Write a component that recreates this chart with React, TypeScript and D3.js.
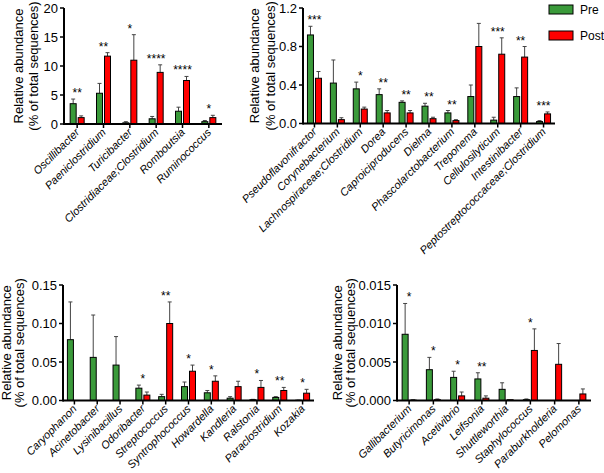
import * as d3 from 'd3';

// ---- top left
const taxaA = ['Oscillibacter', 'Paeniclostridium', 'Turicibacter', 'Clostridiaceae;Clostridium', 'Romboutsia', 'Ruminococcus'];
const preA = [3.5, 5.3, 0.2, 0.9, 2.2, 0.4];
const preSemA = [0.8, 1.7, 0.2, 0.4, 0.7, 0.2];
const postA = [1.1, 11.7, 11.0, 8.9, 7.5, 1.1];
const postSemA = [0.3, 0.6, 4.4, 1.3, 0.7, 0.4];
const sigA = ['**', '**', '*', '****', '****', '*'];
const ticksA = [0, 5, 10, 15, 20];

// ---- top right
const taxaB = ['Pseudoflavonifractor', 'Corynebacterium', 'Lachnospiraceae;Clostridium', 'Dorea', 'Caproiciproducens', 'Dielma', 'Phascolarctobacterium', 'Treponema', 'Cellulosilyticum', 'Intestinibacter', 'Peptostreptococcaceae;Clostridium'];
const preB = [0.92, 0.42, 0.36, 0.30, 0.22, 0.18, 0.11, 0.28, 0.035, 0.28, 0.02];
const preSemB = [0.09, 0.24, 0.07, 0.06, 0.015, 0.03, 0.025, 0.12, 0.03, 0.09, 0.01];
const postB = [0.47, 0.04, 0.15, 0.11, 0.11, 0.05, 0.03, 0.80, 0.72, 0.69, 0.10];
const postSemB = [0.07, 0.02, 0.02, 0.025, 0.025, 0.015, 0.01, 0.24, 0.17, 0.11, 0.02];
const sigB = ['***', '', '*', '**', '**', '**', '**', '', '***', '**', '***'];
const ticksB = [0, 0.4, 0.8, 1.2];

// ---- bottom left
const taxaC = ['Caryophanon', 'Acinetobacter', 'Lysinibacillus', 'Odoribacter', 'Streptococcus', 'Syntrophococcus', 'Howardella', 'Kandleria', 'Ralstonia', 'Paraclostridium', 'Kozakia'];
const preC = [0.079, 0.056, 0.046, 0.016, 0.005, 0.018, 0.010, 0.003, 0.001, 0.004, 0.0003];
const preSemC = [0.049, 0.055, 0.037, 0.004, 0.003, 0.006, 0.003, 0.002, 0.0005, 0.001, 0.0002];
const postC = [0, 0, 0, 0.007, 0.100, 0.038, 0.025, 0.018, 0.017, 0.013, 0.0095];
const postSemC = [0, 0, 0, 0.004, 0.028, 0.008, 0.007, 0.007, 0.009, 0.004, 0.005];
const sigC = ['', '', '', '*', '**', '*', '*', '', '*', '**', '*'];
const ticksC = [0, 0.05, 0.10, 0.15];

// ---- bottom right
const taxaD = ['Gallibacterium', 'Butyricimonas', 'Acetivibrio', 'Leifsonia', 'Shuttleworthia', 'Staphylococcus', 'Paraburkholderia', 'Pelomonas'];
const preD = [0.0086, 0.0040, 0.0030, 0.0028, 0.00145, 0.0001, 0, 0];
const preSemD = [0.0040, 0.0016, 0.0008, 0.0008, 0.00085, 0.0001, 0, 0];
const postD = [0.00005, 0.0001, 0.0006, 0.0003, 0.0001, 0.0065, 0.0047, 0.00085];
const postSemD = [0.00005, 0.0001, 0.0005, 0.0003, 0, 0.0028, 0.0027, 0.00065];
const sigD = ['*', '*', '*', '**', '', '*', '', ''];
const ticksD = [0, 0.005, 0.010, 0.015];

const GREEN = '#3a9a3a';
const RED = '#ff0000';
const FONT = '"Liberation Sans", Arial, sans-serif';

type PanelProps = {
  names: string[];
  pre: number[];
  preSem: number[];
  post: number[];
  postSem: number[];
  sig: string[];
  ticks: number[];
  digits: number;
  x0: number;
  x1: number;
  yTop: number;
  yBottom: number;
  titleX: [number, number];
};

const Panel = ({ names, pre, preSem, post, postSem, sig, ticks, digits, x0, x1, yTop, yBottom, titleX }: PanelProps) => {
  const x = d3.scaleBand().domain(names).range([x0, x1]);
  const y = d3.scaleLinear().domain([0, ticks[ticks.length - 1]]).range([yBottom, yTop]);
  const fmt = d3.format(`.${digits}f`);
  const bw = 6;
  const midY = (yTop + yBottom) / 2;

  const bar = (cx: number, v: number, sem: number, color: string, key: string) => {
    if (v <= 0 && sem <= 0) return null;
    const top = y(v);
    const errTop = y(v + sem);
    return (
      <g key={key}>
        {sem > 0 && (
          <g stroke="#444" strokeWidth={1}>
            <line x1={cx + bw / 2} x2={cx + bw / 2} y1={top} y2={errTop} />
            <line x1={cx + bw / 2 - 2} x2={cx + bw / 2 + 2} y1={errTop} y2={errTop} />
          </g>
        )}
        <rect x={cx} y={top} width={bw} height={Math.max(0, yBottom - top)} fill={color} stroke="#000" strokeWidth={1} />
      </g>
    );
  };

  return (
    <g fontFamily={FONT} fill="#000">
      {names.map((n, i) => {
        const c = (x(n) as number) + x.bandwidth() / 2;
        const maxTop = Math.max(pre[i] + preSem[i], post[i] + postSem[i]);
        return (
          <g key={n}>
            {bar(c - bw - 1, pre[i], preSem[i], GREEN, 'pre')}
            {bar(c + 1, post[i], postSem[i], RED, 'post')}
            {sig[i] && (
              <text x={c} y={y(maxTop) - 2} textAnchor="middle" fontSize={12} fill="#000">{sig[i]}</text>
            )}
            <line x1={c} x2={c} y1={yBottom} y2={yBottom + 4} stroke="#000" strokeWidth={1.5} />
            <text
              transform={`translate(${c + 3},${yBottom + 9}) rotate(-45)`}
              textAnchor="end"
              fontSize={11}
              fontStyle="italic"
              fill="#000"
            >{n}</text>
          </g>
        );
      })}
      <line x1={x0} x2={x1} y1={yBottom} y2={yBottom} stroke="#000" strokeWidth={2} />
      <line x1={x0} x2={x0} y1={yTop} y2={yBottom + 1} stroke="#000" strokeWidth={2} />
      {ticks.map(t => (
        <g key={t}>
          <line x1={x0 - 4} x2={x0} y1={y(t)} y2={y(t)} stroke="#000" strokeWidth={1.5} />
          <text x={x0 - 6} y={y(t)} dy="0.36em" textAnchor="end" fontSize={13}>{fmt(t)}</text>
        </g>
      ))}
      <text transform={`translate(${titleX[0] + 4.5},${midY}) rotate(-90)`} textAnchor="middle" fontSize={13}>Relative abundance</text>
      <text transform={`translate(${titleX[1] + 4.5},${midY}) rotate(-90)`} textAnchor="middle" fontSize={13}>(% of total sequences)</text>
    </g>
  );
};

export default function App() {
  return (
    <svg width={604} height={473} style={{ position: 'absolute', left: 0, top: 0, background: '#fff' }}>
      <Panel names={taxaA} pre={preA} preSem={preSemA} post={postA} postSem={postSemA} sig={sigA}
        ticks={ticksA} digits={0} x0={64} x1={222} yTop={8} yBottom={124} titleX={[18, 33]} />
      <Panel names={taxaB} pre={preB} preSem={preSemB} post={postB} postSem={postSemB} sig={sigB}
        ticks={ticksB} digits={1} x0={303} x1={555} yTop={8} yBottom={123.5} titleX={[254, 270]} />
      <Panel names={taxaC} pre={preC} preSem={preSemC} post={postC} postSem={postSemC} sig={sigC}
        ticks={ticksC} digits={2} x0={63} x1={314} yTop={285} yBottom={400.5} titleX={[6, 19.5]} />
      <Panel names={taxaD} pre={preD} preSem={preSemD} post={postD} postSem={postSemD} sig={sigD}
        ticks={ticksD} digits={3} x0={397} x1={591} yTop={285} yBottom={400.5} titleX={[337.5, 350]} />
      <g fontFamily={FONT} fontSize={12} fill="#000">
        <rect x={549} y={5} width={24} height={9} fill={GREEN} stroke="#000" strokeWidth={1} />
        <text x={580} y={14}>Pre</text>
        <rect x={549} y={31} width={24} height={9} fill={RED} stroke="#000" strokeWidth={1} />
        <text x={580} y={40}>Post</text>
      </g>
    </svg>
  );
}
